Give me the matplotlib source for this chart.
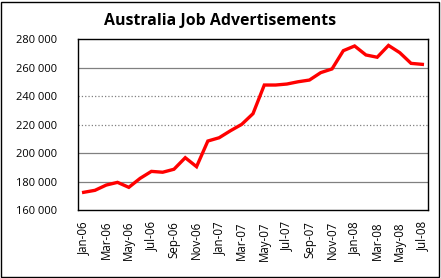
import matplotlib
matplotlib.use("Agg")
import matplotlib.pyplot as plt
from matplotlib.patches import Rectangle

months = ["Jan-06","Feb-06","Mar-06","Apr-06","May-06","Jun-06","Jul-06","Aug-06","Sep-06","Oct-06","Nov-06","Dec-06",
          "Jan-07","Feb-07","Mar-07","Apr-07","May-07","Jun-07","Jul-07","Aug-07","Sep-07","Oct-07","Nov-07","Dec-07",
          "Jan-08","Feb-08","Mar-08","Apr-08","May-08","Jun-08","Jul-08"]
values = [172400, 173800, 177500, 179400, 175900, 182200, 187100, 186500, 188600, 196700, 190400, 208400,
          210700, 215600, 220100, 227600, 247700, 247700, 248400, 250000, 251200, 256400, 259000, 271800,
          275100, 268800, 267200, 275500, 270400, 262900, 262200]
yticks = [160000, 180000, 200000, 220000, 240000, 260000, 280000]
ytick_labels = ["160 000", "180 000", "200 000", "220 000", "240 000", "260 000", "280 000"]
title = "Australia Job Advertisements"

plt.rcParams['font.family'] = ['Open Sans', 'DejaVu Sans']
fig = plt.figure(figsize=(4.41, 2.78), dpi=100)
ax = fig.add_axes([78/441, 68/278, 350/441, 171/278])

x = list(range(len(values)))
# gridlines: solid for some, dotted for others (as in reference)
for yv in yticks[1:-1]:
    ls = ':' if yv in (220000, 240000) else '-'
    ax.axhline(yv, color='#808080', lw=0.9, ls=ls, zorder=1)

ax.plot(x, values, color='#FF0000', lw=2.4, zorder=3, solid_joinstyle='miter')
ax.set_xlim(-0.5, len(values) - 0.5)
ax.set_ylim(160000, 280000)
ax.set_yticks(yticks)
ax.set_yticklabels(ytick_labels, fontsize=8)
ax.set_xticks(x[::2])
ax.set_xticklabels(months[::2], rotation=90, fontsize=8.3)
ax.tick_params(axis='both', length=0)
ax.tick_params(axis='x', pad=8)
ax.tick_params(axis='y', pad=15)
for s in ax.spines.values():
    s.set_color('black')
    s.set_linewidth(1.0)

fig.text(0.5, 0.925, title, ha='center', va='center', fontsize=11.4, fontweight='bold')
fig.patches.append(Rectangle((0.003, 0.004), 0.992, 0.99, transform=fig.transFigure,
                             fill=False, edgecolor='black', lw=1.0))
fig.savefig("out.png", dpi=100)
